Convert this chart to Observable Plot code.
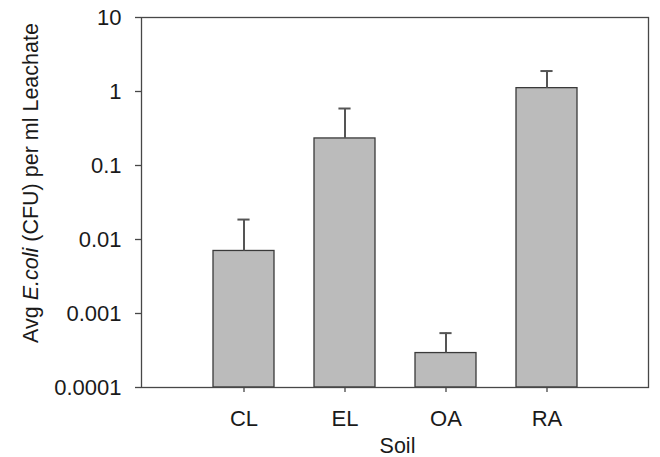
<!DOCTYPE html>
<html>
<head>
<meta charset="utf-8">
<script src="https://cdn.jsdelivr.net/npm/d3@7"></script>
<script src="https://cdn.jsdelivr.net/npm/@observablehq/plot@0.6"></script>
<style>
  html, body { margin: 0; padding: 0; background: #fff; }
  #chart svg { display: block; }
</style>
</head>
<body>
<div id="chart"></div>
<script>
// Data
const soils = ["CL", "EL", "OA", "RA"];
const means = [0.0070, 0.232, 0.000292, 1.11];
const uppers = [0.0186, 0.589, 0.000543, 1.89];
const yTicks = [0.0001, 0.001, 0.01, 0.1, 1, 10];
const yTickLabels = ["0.0001", "0.001", "0.01", "0.1", "1", "10"];
const xLabel = "Soil";
const yLabelParts = [["Avg ", false], ["E.coli", true], [" (CFU) per ml Leachate", false]];

const data = soils.map((s, i) => ({ soil: s, mean: means[i], upper: uppers[i], base: yTicks[0] }));

const W = 660, H = 457;
const mL = 141, mR = 12, mT = 17, mB = 70;
const font = "'Liberation Sans', Arial, sans-serif";
const axisColor = "#474747";
const fs = 21.5;
const tfs = 22;

const bandW = (W - mL - mR) / 5 * 0.6;
const capW = 12;

const chart = Plot.plot({
  width: W,
  height: H,
  marginLeft: mL,
  marginRight: mR,
  marginTop: mT,
  marginBottom: mB,
  style: { fontFamily: font, fontSize: fs + "px", color: "#1a1a1a", background: "#fff" },
  x: { type: "band", domain: soils, paddingInner: 0.4, paddingOuter: 0.7, label: null },
  y: { type: "log", domain: [yTicks[0], yTicks[yTicks.length - 1]], label: null },
  marks: [
    Plot.barY(data, { x: "soil", y1: "base", y2: "mean", fill: "#bbbbbb", stroke: "#3a3a3a", strokeWidth: 1.3 }),
    Plot.ruleX(data, { x: "soil", y1: "mean", y2: "upper", stroke: "#555", strokeWidth: 2 }),
    Plot.tickY(data, { x: "soil", y: "upper", stroke: "#555", strokeWidth: 2, insetLeft: (bandW - capW) / 2, insetRight: (bandW - capW) / 2 }),
    Plot.frame({ stroke: axisColor, strokeWidth: 1.3 }),
    Plot.axisY({ ticks: yTicks, tickFormat: (d) => yTickLabels[yTicks.indexOf(d)], tickSize: 6, tickPadding: 14, fontSize: tfs, stroke: axisColor, strokeWidth: 1.3, label: null, fill: "#1a1a1a" }),
    Plot.axisX({ tickSize: 5, tickPadding: 18, fontSize: tfs, stroke: axisColor, strokeWidth: 1.3, label: null, fill: "#1a1a1a" })
  ]
});

document.getElementById("chart").appendChild(chart);

// Axis titles (mixed italic for the y title)
const svg = d3.select(chart);
svg.append("text")
  .attr("x", (mL + W - mR) / 2 + 3)
  .attr("y", 453)
  .attr("text-anchor", "middle")
  .attr("font-family", font)
  .attr("font-size", fs)
  .attr("fill", "#1a1a1a")
  .text(xLabel);

const yt = svg.append("text")
  .attr("transform", `translate(38, 183) rotate(-90)`)
  .attr("text-anchor", "middle")
  .attr("font-family", font)
  .attr("font-size", fs)
  .attr("fill", "#1a1a1a");
yLabelParts.forEach(([t, it]) => {
  yt.append("tspan").attr("font-style", it ? "italic" : "normal").text(t);
});
</script>
</body>
</html>
